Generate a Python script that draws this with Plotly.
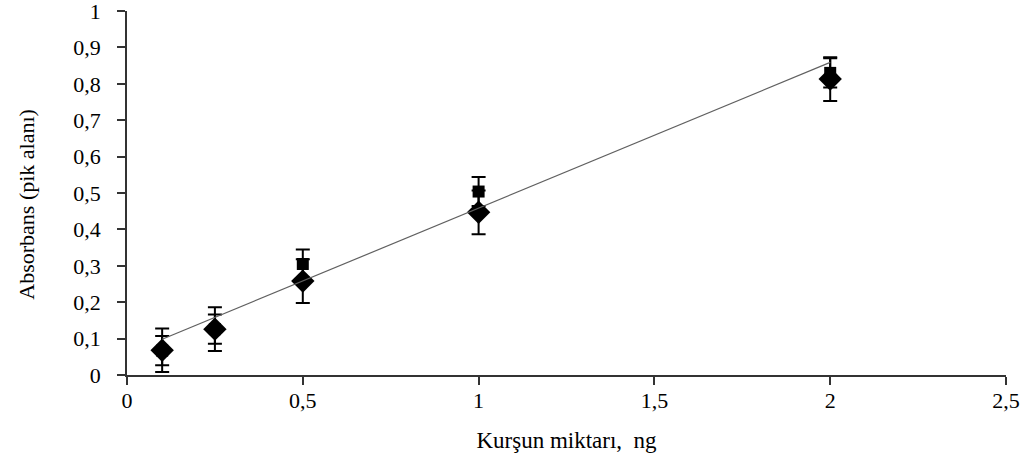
import numpy as np
import plotly.graph_objects as go

# Lead amount (ng) and measured absorbance (peak area) for two series
kursun_ng = [0.1, 0.25, 0.5, 1.0, 2.0]
absorbans_kare = [0.067, 0.126, 0.305, 0.504, 0.830]
absorbans_elmas = [0.068, 0.126, 0.258, 0.447, 0.813]
hata_kare = [0.04, 0.04, 0.04, 0.04, 0.04]
hata_elmas = [0.06, 0.06, 0.06, 0.06, 0.06]

x_ticks = [0, 0.5, 1, 1.5, 2, 2.5]
x_tick_text = ["0", "0,5", "1", "1,5", "2", "2,5"]
y_ticks = [0, 0.1, 0.2, 0.3, 0.4, 0.5, 0.6, 0.7, 0.8, 0.9, 1]
y_tick_text = ["0", "0,1", "0,2", "0,3", "0,4", "0,5", "0,6", "0,7", "0,8", "0,9", "1"]

# Linear trend line through the square series
egim, kesisim = np.polyfit(kursun_ng, absorbans_kare, 1)
trend_x = [kursun_ng[0], kursun_ng[-1]]
trend_y = [egim * v + kesisim for v in trend_x]

FONT = "Liberation Serif"

fig = go.Figure()

fig.add_trace(go.Scatter(
    x=kursun_ng, y=absorbans_kare, mode="markers",
    marker=dict(symbol="square", size=12, color="black"),
    error_y=dict(type="data", array=hata_kare, color="black", thickness=2, width=7),
    showlegend=False,
))
fig.add_trace(go.Scatter(
    x=kursun_ng, y=absorbans_elmas, mode="markers",
    marker=dict(symbol="diamond", size=18, color="black"),
    error_y=dict(type="data", array=hata_elmas, color="black", thickness=2, width=7),
    showlegend=False,
))
fig.add_trace(go.Scatter(
    x=trend_x, y=trend_y, mode="lines",
    line=dict(color="#606060", width=1.2),
    showlegend=False,
))

fig.update_layout(
    width=1035, height=462,
    margin=dict(l=127, r=29, t=11, b=87),
    paper_bgcolor="white", plot_bgcolor="white",
    font=dict(family=FONT, color="black", size=21),
    annotations=[dict(
        text="Absorbans (pik alanı)", textangle=-90,
        xref="paper", yref="paper", x=-0.114, y=0.47,
        xanchor="center", yanchor="middle", showarrow=False,
        font=dict(family=FONT, size=22),
    )],
)
fig.update_xaxes(
    range=[0, 2.5], tickvals=x_ticks, ticktext=x_tick_text,
    showgrid=False, zeroline=False, showline=True, linecolor="#333333", linewidth=1.5,
    ticks="outside", ticklen=8, tickcolor="#333333", tickwidth=1.5,
    tickfont=dict(family=FONT, size=22), ticklabelstandoff=-3,
    ticklabeloverflow="allow", automargin=False,
    title=dict(text="Kurşun miktarı,  ng", font=dict(family=FONT, size=23), standoff=20),
)
fig.update_yaxes(
    range=[0, 1], tickvals=y_ticks, ticktext=y_tick_text,
    showgrid=False, zeroline=False, showline=True, linecolor="#333333", linewidth=1.5,
    ticks="outside", ticklen=8, tickcolor="#333333", tickwidth=1.5,
    tickfont=dict(family=FONT, size=22), ticklabelstandoff=12,
    ticklabeloverflow="allow", automargin=False,
)

fig.write_html("out.html")
